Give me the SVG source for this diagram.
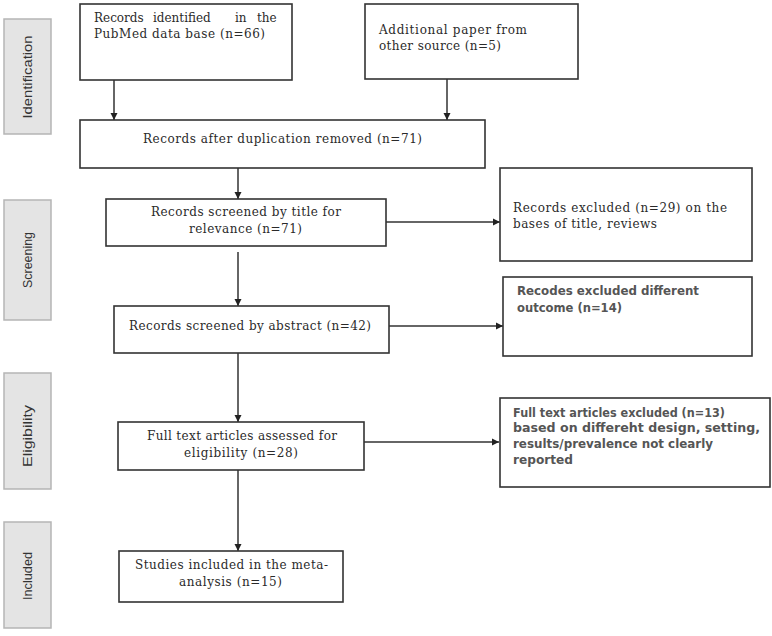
<svg xmlns="http://www.w3.org/2000/svg" width="772" height="636" viewBox="0 0 772 636">
<style>
.box{fill:#fff;stroke:#333;stroke-width:1.6}
.side{fill:#e4e4e4;stroke:#b5b5b5;stroke-width:1.5}
.t{font-family:"DejaVu Serif","Liberation Serif",serif;font-size:12px;fill:#2a2a2a}
.s{font-family:"DejaVu Sans","Liberation Sans",sans-serif;font-size:11.5px;fill:#555;font-weight:bold}
.lab{font-family:"Liberation Sans",Arial,sans-serif;font-size:12px;fill:#333}
.c{fill:none;stroke:#333;stroke-width:1.5;marker-end:url(#ah)}
</style>
<defs>
<marker id="ah" markerWidth="8" markerHeight="8" refX="7" refY="4" orient="auto" markerUnits="userSpaceOnUse">
<path d="M0,0.5 L7,4 L0,7.5 Z" fill="#222"/>
</marker>
</defs>
<rect width="772" height="636" fill="#fff"/>
<g id="side-identification"><rect class="side" x="4" y="19" width="47" height="115"/><text class="lab" transform="translate(32,77) rotate(-90)" text-anchor="middle" textLength="83" lengthAdjust="spacingAndGlyphs">Identification</text></g>
<g id="side-screening"><rect class="side" x="4" y="200" width="47" height="120"/><text class="lab" transform="translate(32,260) rotate(-90)" text-anchor="middle" textLength="56" lengthAdjust="spacingAndGlyphs">Screening</text></g>
<g id="side-eligibility"><rect class="side" x="4" y="373" width="47" height="116"/><text class="lab" transform="translate(32,436) rotate(-90)" text-anchor="middle" textLength="62" lengthAdjust="spacingAndGlyphs">Eligibility</text></g>
<g id="side-included"><rect class="side" x="4" y="522" width="47" height="106"/><text class="lab" transform="translate(32,576) rotate(-90)" text-anchor="middle" textLength="48" lengthAdjust="spacingAndGlyphs">Included</text></g>

<g id="connectors">
<line class="c" x1="114" y1="80" x2="114" y2="120"/>
<line class="c" x1="447" y1="79" x2="447" y2="120"/>
<line class="c" x1="238" y1="168" x2="238" y2="199"/>
<line class="c" x1="386" y1="222" x2="500" y2="222"/>
<line class="c" x1="238" y1="252" x2="238" y2="306"/>
<line class="c" x1="389" y1="326" x2="503" y2="326"/>
<line class="c" x1="238" y1="353" x2="238" y2="422"/>
<line class="c" x1="364" y1="442" x2="499" y2="442"/>
<line class="c" x1="238" y1="470" x2="238" y2="551"/>
</g>

<g id="n-pubmed"><rect class="box" x="80" y="4" width="212" height="76"/>
<text class="t" y="22"><tspan x="94">Records</tspan><tspan x="153">identified</tspan><tspan x="235">in</tspan><tspan x="257">the</tspan></text>
<text class="t" x="94" y="38" textLength="171" lengthAdjust="spacing">PubMed data base (n=66)</text></g>
<g id="n-additional"><rect class="box" x="365" y="4" width="213" height="75"/>
<text class="t" x="379" y="34" textLength="148" lengthAdjust="spacing">Additional paper from</text>
<text class="t" x="379" y="50" textLength="122" lengthAdjust="spacing">other source (n=5)</text></g>
<g id="n-dup"><rect class="box" x="80" y="120" width="405" height="48"/>
<text class="t" x="143" y="143" textLength="279" lengthAdjust="spacing">Records after duplication removed (n=71)</text></g>
<g id="n-title"><rect class="box" x="106" y="199" width="280" height="47"/>
<text class="t" x="151" y="216" textLength="190" lengthAdjust="spacing">Records screened by title for</text>
<text class="t" x="189" y="233" textLength="113" lengthAdjust="spacing">relevance (n=71)</text></g>
<g id="n-excl1"><rect class="box" x="500" y="168" width="252" height="93"/>
<text class="t" x="513" y="212" textLength="214" lengthAdjust="spacing">Records excluded (n=29) on the</text>
<text class="t" x="513" y="228" textLength="144" lengthAdjust="spacing">bases of title, reviews</text></g>
<g id="n-abstract"><rect class="box" x="114" y="306" width="275" height="47"/>
<text class="t" x="129" y="330" textLength="242" lengthAdjust="spacing">Records screened by abstract (n=42)</text></g>
<g id="n-excl2"><rect class="box" x="503" y="277" width="249" height="79"/>
<text class="s" x="517" y="295" textLength="182" lengthAdjust="spacingAndGlyphs">Recodes excluded different</text>
<text class="s" x="517" y="312" textLength="105" lengthAdjust="spacingAndGlyphs">outcome (n=14)</text></g>
<g id="n-fulltext"><rect class="box" x="118" y="422" width="246" height="48"/>
<text class="t" x="147" y="440" textLength="190" lengthAdjust="spacing">Full text articles assessed for</text>
<text class="t" x="184" y="457" textLength="114" lengthAdjust="spacing">eligibility (n=28)</text></g>
<g id="n-excl3"><rect class="box" x="500" y="398" width="270" height="89"/>
<text class="s" x="513" y="417" textLength="212" lengthAdjust="spacingAndGlyphs">Full text articles excluded (n=13)</text>
<text class="s" x="513" y="432" textLength="247" lengthAdjust="spacingAndGlyphs">based on differeht design, setting,</text>
<text class="s" x="513" y="448" textLength="200" lengthAdjust="spacingAndGlyphs">results/prevalence not clearly</text>
<text class="s" x="513" y="464" textLength="60" lengthAdjust="spacingAndGlyphs">reported</text></g>
<g id="n-included"><rect class="box" x="119" y="551" width="224" height="51"/>
<text class="t" x="135" y="569" textLength="193" lengthAdjust="spacing">Studies included in the meta-</text>
<text class="t" x="179" y="586" textLength="103" lengthAdjust="spacing">analysis (n=15)</text></g>
</svg>
